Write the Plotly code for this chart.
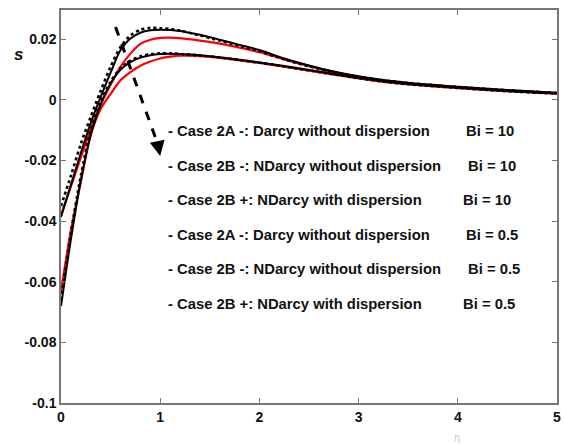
import plotly.graph_objects as go

eta = [0, 0.1, 0.2, 0.3, 0.4, 0.5, 0.6, 0.7, 0.8, 0.9, 1.0, 1.1, 1.2, 1.4, 1.6, 1.8,
       2.0, 2.25, 2.5, 2.75, 3.0, 3.25, 3.5, 3.75, 4.0, 4.5, 5.0]

# upper-peak group
s_black_hi = [-0.0386, -0.028, -0.0175, -0.0075, 0.001, 0.009, 0.0165, 0.0203, 0.0222, 0.0230,
              0.0232, 0.0231, 0.0228, 0.0215, 0.0199, 0.0182, 0.0165, 0.0137, 0.0114, 0.0094,
              0.0078, 0.0066, 0.0057, 0.0050, 0.0044, 0.0033, 0.0024]
s_dot_hi = [-0.035, -0.025, -0.0145, -0.0055, 0.003, 0.011, 0.0175, 0.0213, 0.0232, 0.0238,
            0.0237, 0.0234, 0.0229, 0.0213, 0.0196, 0.0179, 0.0161, 0.0134, 0.0111, 0.0092,
            0.0076, 0.0065, 0.0056, 0.0049, 0.0043, 0.0032, 0.0023]
s_red_hi = [-0.038, -0.0285, -0.019, -0.0095, -0.0015, 0.005, 0.011, 0.0153, 0.0185, 0.0199,
            0.0205, 0.0206, 0.0204, 0.0196, 0.0186, 0.0173, 0.0158, 0.0134, 0.0112, 0.0092,
            0.0076, 0.0064, 0.0055, 0.0048, 0.0042, 0.0031, 0.0022]
# lower-peak group
s_black_lo = [-0.068, -0.046, -0.0265, -0.0115, -0.0015, 0.0055, 0.0100, 0.0125, 0.0140, 0.0148,
              0.0152, 0.0153, 0.0152, 0.0148, 0.0141, 0.0133, 0.0124, 0.0112, 0.0099, 0.0086,
              0.0073, 0.0062, 0.0053, 0.0047, 0.0041, 0.0030, 0.0022]
s_dot_lo = [-0.066, -0.044, -0.025, -0.010, -0.0005, 0.006, 0.0105, 0.0130, 0.0144, 0.0151,
            0.0154, 0.0154, 0.0152, 0.0147, 0.0140, 0.0132, 0.0123, 0.0111, 0.0098, 0.0085,
            0.0072, 0.0061, 0.0052, 0.0046, 0.0040, 0.0029, 0.0021]
s_red_lo = [-0.063, -0.043, -0.027, -0.0115, -0.003, 0.002, 0.0065, 0.0092, 0.0113, 0.0127,
            0.0137, 0.0143, 0.0146, 0.0145, 0.0139, 0.0131, 0.0122, 0.0110, 0.0097, 0.0084,
            0.0071, 0.0060, 0.0052, 0.0045, 0.0039, 0.0029, 0.0021]

legend_left = ["- Case 2A -: Darcy without dispersion",
               "- Case 2B -: NDarcy without dispersion",
               "- Case 2B +: NDarcy with dispersion",
               "- Case 2A -: Darcy without dispersion",
               "- Case 2B -: NDarcy without dispersion",
               "- Case 2B +: NDarcy with dispersion"]
legend_right = ["Bi = 10", "Bi = 10", "Bi = 10", "Bi = 0.5", "Bi = 0.5", "Bi = 0.5"]

x_ticks = [0, 1, 2, 3, 4, 5]
y_ticks = [-0.1, -0.08, -0.06, -0.04, -0.02, 0, 0.02]
y_tick_text = ["-0.1", "-0.08", "-0.06", "-0.04", "-0.02", "0", "0.02"]

arrow_eta = [0.55, 0.98]
arrow_s = [0.0241, -0.0150]

fig = go.Figure()
series = [
    (s_red_lo, dict(color="#ff0000", width=2.2)),
    (s_red_hi, dict(color="#ff0000", width=2.2)),
    (s_black_lo, dict(color="black", width=2)),
    (s_black_hi, dict(color="black", width=2)),
    (s_dot_lo, dict(color="black", width=2.6, dash="dot")),
    (s_dot_hi, dict(color="black", width=2.6, dash="dot")),
]
for ys, ln in series:
    fig.add_trace(go.Scatter(x=eta, y=ys, mode="lines", line=dict(shape="spline", smoothing=0.8, **ln),
                             showlegend=False, hoverinfo="skip", cliponaxis=False))

fig.add_trace(go.Scatter(x=arrow_eta, y=arrow_s, mode="lines",
                         line=dict(color="black", width=3, dash="dash"),
                         showlegend=False, hoverinfo="skip"))

annotations = [dict(x=1.0, y=-0.0185, xref="x", yref="y", ax=0.975, ay=-0.0145, axref="x", ayref="y",
                    showarrow=True, arrowhead=2, arrowsize=1.2, arrowwidth=2.5, arrowcolor="black",
                    text="", standoff=0, startstandoff=0)]

x0, x1, y0, y1 = 61, 557, 10, 403
rows_y = [131, 166, 200, 235, 269, 304]
right_x = [464, 466, 461, 464, 466, 461]
txt_font = dict(family="Liberation Sans, Arial", size=14.8, color="#111")
for i, (lt, rt) in enumerate(zip(legend_left, legend_right)):
    yf = (y1 - rows_y[i]) / (y1 - y0)
    annotations.append(dict(x=(166 - x0) / (x1 - x0), y=yf, xref="paper", yref="paper",
                            text="<b>" + lt + "</b>", showarrow=False, xanchor="left", yanchor="middle",
                            font=txt_font))
    annotations.append(dict(x=(right_x[i] - x0) / (x1 - x0), y=yf, xref="paper", yref="paper",
                            text="<b>" + rt + "</b>", showarrow=False, xanchor="left", yanchor="middle",
                            font=txt_font))

annotations.append(dict(x=(18 - x0) / (x1 - x0), y=(y1 - 55) / (y1 - y0), xref="paper", yref="paper",
                        text="<b><i>s</i></b>", showarrow=False, xanchor="center", yanchor="middle",
                        font=dict(family="Liberation Sans, Arial", size=17, color="#111")))
annotations.append(dict(x=(457 - x0) / (x1 - x0), y=(y1 - 437) / (y1 - y0), xref="paper", yref="paper",
                        text="η", showarrow=False, xanchor="center", yanchor="middle",
                        font=dict(family="DejaVu Sans", size=10, color="#c8c8c8")))

axis_common = dict(showgrid=False, zeroline=False, showline=True, linecolor="#777", linewidth=1.5,
                   mirror="ticks", ticks="inside", ticklen=5, tickcolor="#777", automargin=False,
                   tickfont=dict(family="Liberation Sans, Arial", size=14, color="#111"))

fig.update_layout(
    width=565, height=445,
    margin=dict(l=x0, r=565 - x1, t=y0, b=445 - y1, pad=0),
    paper_bgcolor="white", plot_bgcolor="white",
    xaxis=dict(range=[0, 5], tickvals=x_ticks, ticktext=["<b>%d</b>" % v for v in x_ticks], **axis_common),
    yaxis=dict(range=[-0.1, 0.0297], tickvals=y_ticks,
               ticktext=["<b>%s</b>" % t for t in y_tick_text], **axis_common),
    annotations=annotations,
)

fig.write_html("out.html", config={"displayModeBar": False},
               post_script="document.body.style.margin='0';document.body.style.padding='0';"
                           "document.body.style.overflow='hidden';")
